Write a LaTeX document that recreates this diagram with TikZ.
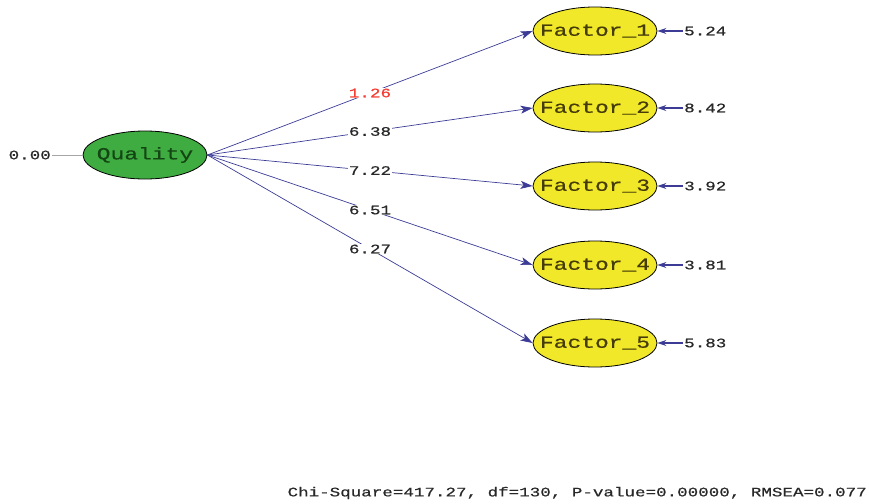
\documentclass[tikz,border=0pt]{standalone}
\usepackage{fontspec}
\usepackage{tikz}
\usetikzlibrary{shapes.geometric,arrows.meta}
\newfontfamily\lisfont[FakeStretch=1.35,FakeBold=0.6]{Liberation Mono}

\definecolor{lisgreen}{RGB}{62,172,64}
\definecolor{lisyellow}{RGB}{240,232,40}
\definecolor{lisnavy}{RGB}{60,60,150}
\definecolor{lisred}{RGB}{245,60,50}
\definecolor{listext}{RGB}{40,40,40}
\definecolor{qtext}{RGB}{20,70,20}
\definecolor{ftext}{RGB}{70,60,10}

\tikzset{
	latent/.style={shape=ellipse, draw=black, line width=0.8pt, minimum width=124pt, minimum height=48pt, inner sep=0pt},
	lname/.style={font=\lisfont\fontsize{17}{17}\selectfont},
	num/.style={inner sep=1pt, text=listext, font=\lisfont\fontsize{13}{13}\selectfont},
	load/.style={-{Stealth[length=12pt,width=8pt,inset=3pt]}, lisnavy, line width=0.7pt},
	errarrow/.style={-{Stealth[length=9pt,width=6pt]}, lisnavy, line width=1.2pt},
}

\begin{document}
\begin{tikzpicture}[x=1pt, y=-1pt]
		\useasboundingbox (0,0) rectangle (869,503);

		\node[latent, fill=lisgreen, label={[lname, text=qtext]center:Quality}] (Q) at (145,155) {};
		\node[latent, fill=lisyellow, label={[lname, text=ftext]center:Factor\_1}] (F1) at (595,31) {};
		\node[latent, fill=lisyellow, label={[lname, text=ftext]center:Factor\_2}] (F2) at (595,108) {};
		\node[latent, fill=lisyellow, label={[lname, text=ftext]center:Factor\_3}] (F3) at (595,186) {};
		\node[latent, fill=lisyellow, label={[lname, text=ftext]center:Factor\_4}] (F4) at (595,265) {};
		\node[latent, fill=lisyellow, label={[lname, text=ftext]center:Factor\_5}] (F5) at (595,343) {};

		\node[num, anchor=east] (q0) at (52,155) {0.00};
		\node[num, anchor=west] (e1) at (683,31) {5.24};
		\node[num, anchor=west] (e2) at (683,108) {8.42};
		\node[num, anchor=west] (e3) at (683,186) {3.92};
		\node[num, anchor=west] (e4) at (683,265) {3.81};
		\node[num, anchor=west] (e5) at (683,343) {5.83};

		\path [-, gray!70, line width=0.7pt] (q0) edge (Q);

		\path [load] (Q.east) edge node[num, fill=white, text=lisred] {1.26} (F1.west);
		\path [load] (Q.east) edge node[num, fill=white] {6.38} (F2.west);
		\path [load] (Q.east) edge node[num, fill=white] {7.22} (F3.west);
		\path [load] (Q.east) edge node[num, fill=white] {6.51} (F4.west);
		\path [load] (Q.east) edge node[num, fill=white] {6.27} (F5.west);

		\path [errarrow] (e1) edge (F1.east);
		\path [errarrow] (e2) edge (F2.east);
		\path [errarrow] (e3) edge (F3.east);
		\path [errarrow] (e4) edge (F4.east);
		\path [errarrow] (e5) edge (F5.east);

		\node[num, anchor=east] (fit) at (868,493) {Chi-Square=417.27, df=130, P-value=0.00000, RMSEA=0.077};
	\end{tikzpicture}
\end{document}
